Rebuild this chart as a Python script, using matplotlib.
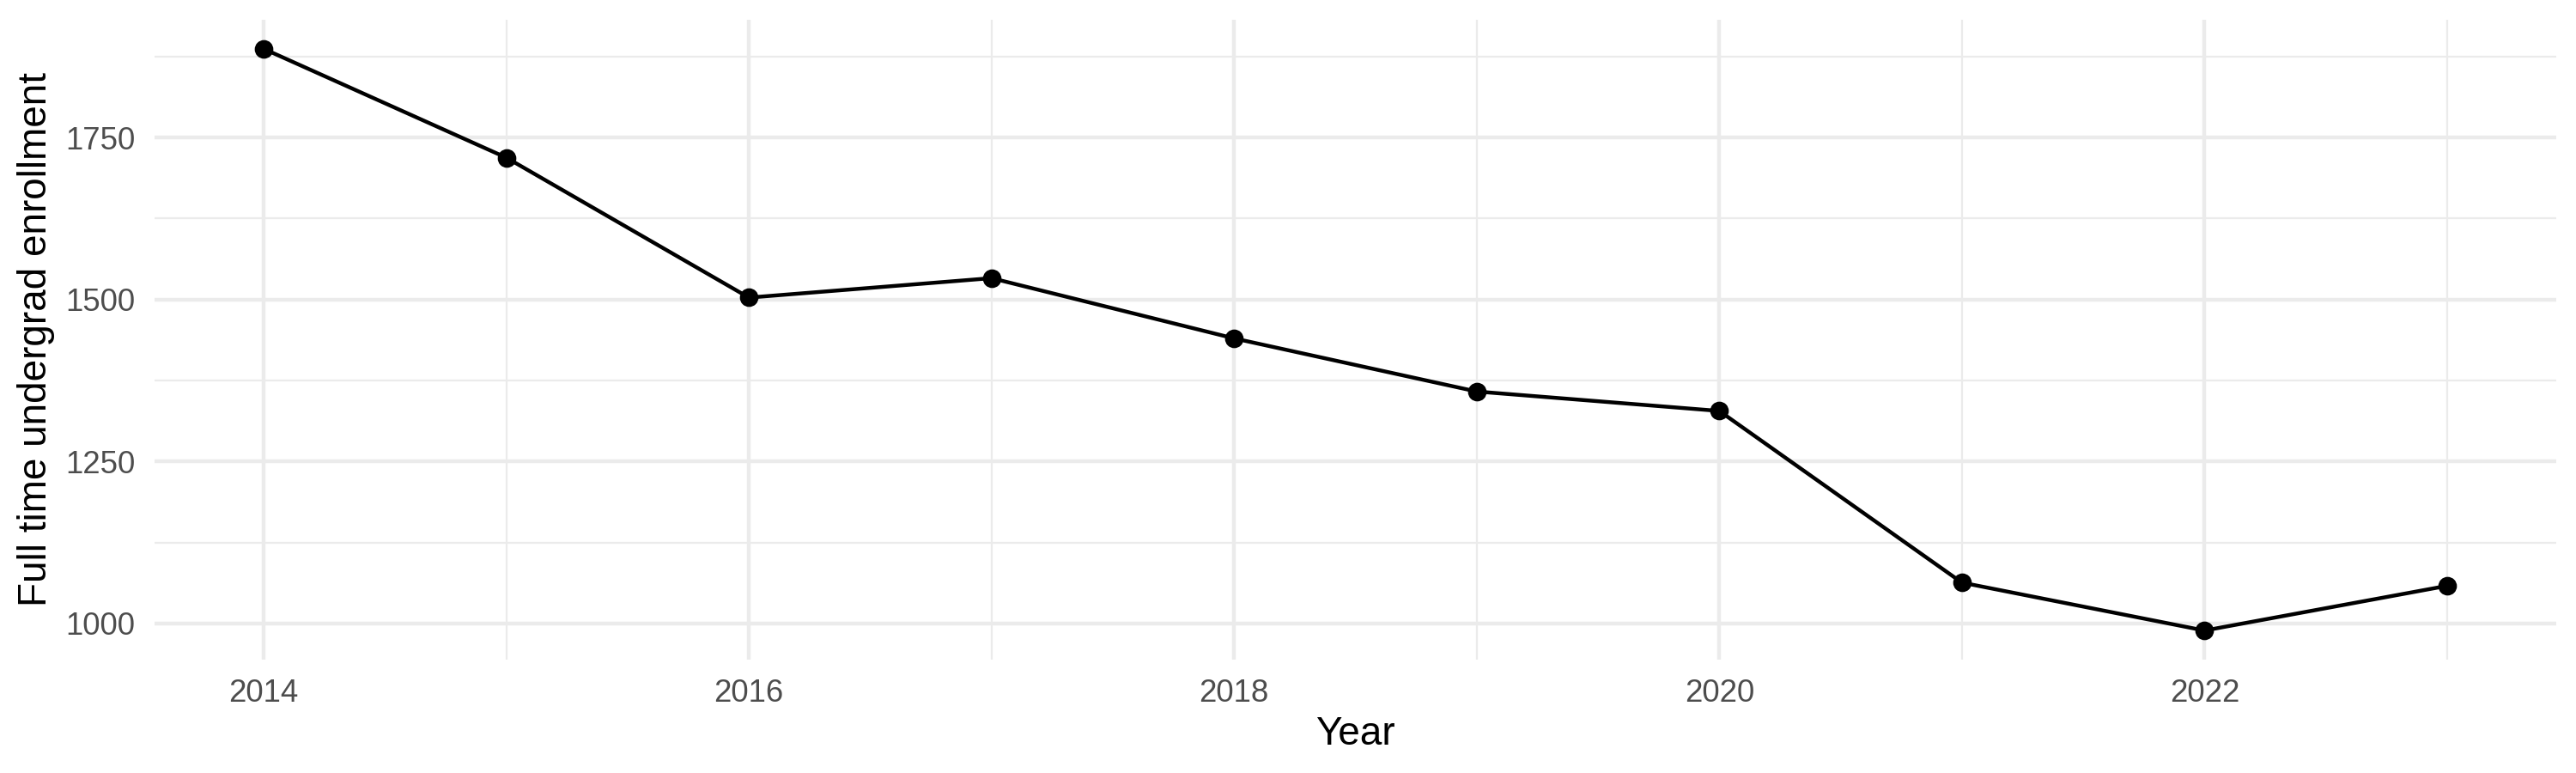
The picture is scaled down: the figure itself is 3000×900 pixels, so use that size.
import matplotlib
matplotlib.use("Agg")
import matplotlib.pyplot as plt
from matplotlib.ticker import FixedLocator

years = [2014, 2015, 2016, 2017, 2018, 2019, 2020, 2021, 2022, 2023]
enrollment = [1887, 1719, 1503, 1533, 1440, 1358, 1328, 1063, 989, 1058]
x_major = [2014, 2016, 2018, 2020, 2022]
x_minor = [2015, 2017, 2019, 2021, 2023]
y_major = [1000, 1250, 1500, 1750]
y_minor = [1125, 1375, 1625, 1875]

plt.rcParams['font.family'] = ['Liberation Sans', 'DejaVu Sans']

fig = plt.figure(figsize=(10, 3), dpi=300)
ax = fig.add_axes([180/3000, 1-768/900, (2977-180)/3000, (768-23)/900])

ax.plot(years, enrollment, color='black', linewidth=1.07, zorder=3)
ax.plot(years, enrollment, 'o', color='black', markersize=4.2, zorder=4)
ax.margins(x=0.05, y=0.05)

ax.xaxis.set_major_locator(FixedLocator(x_major))
ax.xaxis.set_minor_locator(FixedLocator(x_minor))
ax.yaxis.set_major_locator(FixedLocator(y_major))
ax.yaxis.set_minor_locator(FixedLocator(y_minor))
ax.set_xticklabels([str(v) for v in x_major])
ax.set_yticklabels([str(v) for v in y_major])

ax.grid(which='major', color='#EBEBEB', linewidth=1.07)
ax.grid(which='minor', color='#EBEBEB', linewidth=0.53)
ax.set_axisbelow(True)
for s in ax.spines.values():
    s.set_visible(False)
ax.tick_params(which='both', length=0)
ax.tick_params(axis='x', which='major', pad=5.3, labelsize=8.8, labelcolor='#4D4D4D')
ax.tick_params(axis='y', which='major', pad=5.5, labelsize=8.8, labelcolor='#4D4D4D')

ax.set_xlabel('Year', fontsize=11, color='black', labelpad=1.8)
ax.set_ylabel('Full time undergrad enrollment', fontsize=11, color='black', labelpad=2.8)

fig.savefig('out.png', dpi=300, facecolor='white')
